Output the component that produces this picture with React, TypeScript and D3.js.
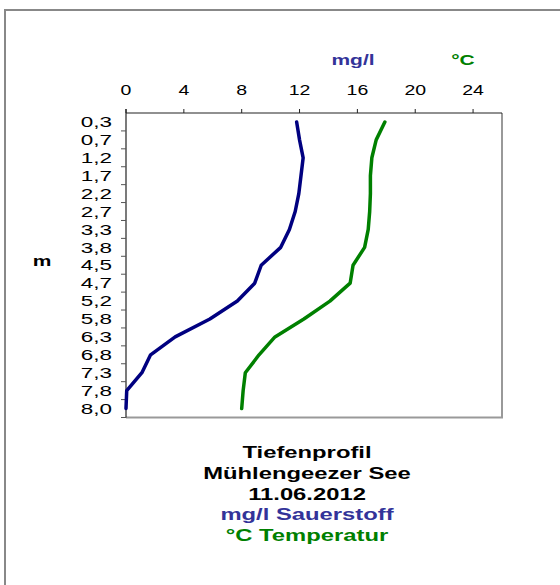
import * as d3 from "d3"

// depth categories (m)
const depths = ["0,3", "0,7", "1,2", "1,7", "2,2", "2,7", "3,3", "3,8", "4,5", "4,7", "5,2", "5,8", "6,3", "6,8", "7,3", "7,8", "8,0"]
// oxygen, mg/l
const oxygen = [11.8, 12.0, 12.25, 12.1, 11.95, 11.7, 11.3, 10.7, 9.35, 8.9, 7.7, 5.8, 3.4, 1.7, 1.1, 0.05, 0.0]
// temperature, °C
const temperature = [17.9, 17.3, 17.0, 16.9, 16.9, 16.85, 16.75, 16.5, 15.7, 15.5, 14.1, 12.3, 10.3, 9.2, 8.25, 8.1, 8.0]
const xTicks = [0, 4, 8, 12, 16, 20, 24]
const titleLines = ["Tiefenprofil", "Mühlengeezer See", "11.06.2012"]

const FONT = "Liberation Sans, Arial, sans-serif"
const SX = 1.4 // the reference is stretched sideways

function SText({ x, y, size, bold, fill, anchor, sx, children }: any) {
  return (
    <text
      transform={`translate(${x},${y}) scale(${sx || SX},1)`}
      fontFamily={FONT}
      fontSize={size}
      fontWeight={bold ? "bold" : "normal"}
      fill={fill || "#000"}
      textAnchor={anchor || "middle"}
      dominantBaseline="central"
    >
      {children}
    </text>
  )
}

export default function App() {
  const width = 560
  const height = 585
  const left = 126
  const right = 502
  const top = 113
  const bottom = 417.5

  const x = d3.scaleLinear().domain([0, 26]).range([left, right])
  const y = d3.scaleBand<string>().domain(depths).range([top, bottom])
  const yc = (d: string) => (y(d) as number) + y.bandwidth() / 2

  const line = d3
    .line<number>()
    .x((d) => x(d))
    .y((_, i) => yc(depths[i]))

  return (
    <svg width={width} height={height} style={{ position: "absolute", left: 0, top: 0, background: "#fff" }}>
      {/* outer frame, runs off the picture at right and bottom */}
      <rect x={5} y={10} width={600} height={620} fill="#fff" stroke="#888" strokeWidth={2} />

      {/* plot area border */}
      <line x1={right} y1={top} x2={right} y2={bottom} stroke="#999" strokeWidth={2} />
      <line x1={left} y1={bottom} x2={right + 1} y2={bottom} stroke="#999" strokeWidth={2} />

      {/* top axis */}
      <line x1={left} y1={top} x2={right} y2={top} stroke="#222" strokeWidth={1.2} />
      {xTicks.map((t) => (
        <g key={t}>
          <line x1={x(t)} y1={top - 4} x2={x(t)} y2={top} stroke="#222" strokeWidth={1} />
          <SText x={x(t)} y={90} size={15} sx={1.3}>
            {t}
          </SText>
        </g>
      ))}

      {/* left axis */}
      <line x1={left} y1={top - 4} x2={left} y2={bottom} stroke="#222" strokeWidth={1.2} />
      {depths.map((d) => (
        <g key={d}>
          <line x1={left - 5} y1={(y(d) as number) + y.bandwidth()} x2={left} y2={(y(d) as number) + y.bandwidth()} stroke="#555" strokeWidth={1} />
          <SText x={112} y={yc(d)} size={15.5} sx={1.45} anchor="end">
            {d}
          </SText>
        </g>
      ))}

      {/* series */}
      <path d={line(oxygen) || ""} fill="none" stroke="#000080" strokeWidth={3.5} strokeLinejoin="round" strokeLinecap="round" />
      <path d={line(temperature) || ""} fill="none" stroke="#008000" strokeWidth={3.5} strokeLinejoin="round" strokeLinecap="round" />

      {/* unit labels */}
      <SText x={353} y={60} size={15} bold fill="#333399">
        mg/l
      </SText>
      <SText x={463} y={60} size={15} bold fill="#008000">
        °C
      </SText>
      <SText x={42} y={261} size={15} bold>
        m
      </SText>

      {/* title */}
      {titleLines.map((t, i) => (
        <SText key={t} x={307} y={452 + i * 20.7} size={17} bold>
          {t}
        </SText>
      ))}
      <SText x={307} y={452 + 3 * 20.7} size={17} bold fill="#333399">
        mg/l Sauerstoff
      </SText>
      <SText x={307} y={452 + 4 * 20.7} size={17} bold fill="#008000">
        °C Temperatur
      </SText>
    </svg>
  )
}
